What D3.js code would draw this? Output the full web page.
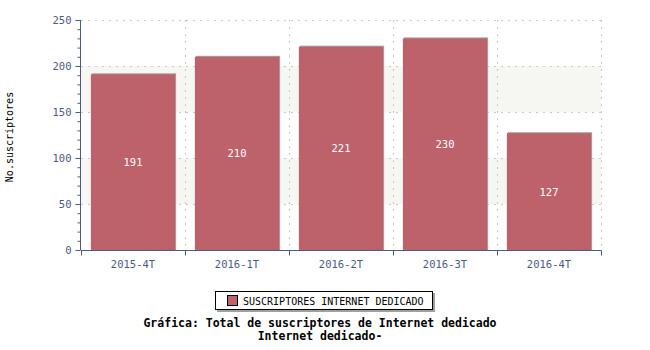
<!DOCTYPE html>
<html>
<head>
<meta charset="utf-8">
<script src="https://cdn.jsdelivr.net/npm/d3@7"></script>
<style>
  body { margin: 0; background: #fff; }
  svg { display: block; font-family: "DejaVu Sans Mono", monospace; }
</style>
</head>
<body>
<div id="chart"></div>
<script>
const categories = ['2015-4T', '2016-1T', '2016-2T', '2016-3T', '2016-4T'];
const values = [191, 210, 221, 230, 127];
const yTicks = [0, 50, 100, 150, 200, 250];
const bands = [[50, 100], [150, 200]];
const seriesName = 'SUSCRIPTORES INTERNET DEDICADO';
const titleLines = ['Gráfica: Total de suscriptores de Internet dedicado', 'Internet dedicado-'];

const W = 650, H = 350;
const margin = { left: 81, right: 49, top: 20, bottom: 100 };
const axisColor = '#4c5a82';
const barColor = '#bd616b';

const svg = d3.select('#chart').append('svg')
    .attr('width', W)
    .attr('height', H);

const x = d3.scaleBand()
    .domain(categories)
    .range([margin.left, W - margin.right])
    .paddingInner(0.19)
    .paddingOuter(0.095);
const y = d3.scaleLinear()
    .domain([0, 250])
    .range([H - margin.bottom, margin.top]);

const x0 = margin.left, x1 = W - margin.right;
const step = x.step();
const edge = i => x0 + i * step;

// alternating background bands
svg.append('g').selectAll('rect')
    .data(bands)
    .enter()
    .append('rect')
    .attr('x', x0)
    .attr('y', d => y(d[1]))
    .attr('width', x1 - x0)
    .attr('height', d => y(d[0]) - y(d[1]))
    .attr('fill', '#f6f6f2');

// dotted grid
const grid = svg.append('g')
    .attr('stroke', '#c8c8c8')
    .attr('stroke-dasharray', '2,5');
grid.selectAll('line.h')
    .data(yTicks.filter(d => d > 0))
    .enter()
    .append('line')
    .attr('x1', x0)
    .attr('x2', x1)
    .attr('y1', d => Math.round(y(d)) + 0.5)
    .attr('y2', d => Math.round(y(d)) + 0.5);
grid.selectAll('line.v')
    .data(d3.range(1, categories.length + 1))
    .enter()
    .append('line')
    .attr('x1', d => Math.round(edge(d)) + 0.5)
    .attr('x2', d => Math.round(edge(d)) + 0.5)
    .attr('y1', y(250))
    .attr('y2', y(0));

// bars with shadow
const barG = svg.append('g');
barG.selectAll('rect.shadow')
    .data(values)
    .enter()
    .append('rect')
    .attr('x', (d, i) => x(categories[i]) + 1)
    .attr('y', d => y(d) - 1)
    .attr('width', x.bandwidth())
    .attr('height', d => y(0) - y(d) + 1)
    .attr('fill', '#a9a0a2');
barG.selectAll('rect.bar')
    .data(values)
    .enter()
    .append('rect')
    .attr('x', (d, i) => x(categories[i]))
    .attr('y', d => y(d))
    .attr('width', x.bandwidth())
    .attr('height', d => y(0) - y(d))
    .attr('fill', barColor);
barG.selectAll('text')
    .data(values)
    .enter()
    .append('text')
    .attr('x', (d, i) => x(categories[i]) + x.bandwidth() / 2)
    .attr('y', d => y(d / 2) + 4)
    .attr('text-anchor', 'middle')
    .attr('font-size', '10.5px')
    .attr('fill', '#ffffff')
    .text(d => d);

// y axis
const yAxis = svg.append('g')
    .attr('transform', `translate(${x0 - 0.5},0)`)
    .call(d3.axisLeft(y).tickValues(yTicks).tickSize(5).tickPadding(4));
yAxis.selectAll('.tick line').attr('stroke', axisColor);
yAxis.select('.domain').attr('stroke', axisColor).attr('d', `M0,${y(250)}V${y(0)}`);
yAxis.selectAll('text')
    .attr('fill', axisColor)
    .attr('font-size', '10.5px')
    .attr('font-family', '"DejaVu Sans Mono", monospace');
const yMinor = svg.append('g')
    .attr('transform', `translate(${x0 - 0.5},0)`)
    .call(d3.axisLeft(y).tickValues(d3.range(0, 251, 10).filter(d => d % 50 !== 0)).tickSize(3).tickFormat(''));
yMinor.select('.domain').remove();
yMinor.selectAll('.tick line').attr('stroke', axisColor);

// x axis
const xAxis = svg.append('g')
    .attr('transform', `translate(0,${y(0) + 0.5})`);
xAxis.append('line')
    .attr('x1', x0)
    .attr('x2', x1 + 0.5)
    .attr('stroke', axisColor);
xAxis.selectAll('line.tk')
    .data(d3.range(0, categories.length + 1))
    .enter()
    .append('line')
    .attr('x1', d => Math.round(edge(d)) + 0.5)
    .attr('x2', d => Math.round(edge(d)) + 0.5)
    .attr('y1', 0)
    .attr('y2', 5)
    .attr('stroke', axisColor);
xAxis.selectAll('text')
    .data(categories)
    .enter()
    .append('text')
    .attr('x', d => x(d) + x.bandwidth() / 2)
    .attr('y', 17)
    .attr('text-anchor', 'middle')
    .attr('font-size', '10.5px')
    .attr('fill', axisColor)
    .text(d => d);

// y label
svg.append('text')
    .attr('transform', 'translate(13,137) rotate(-90)')
    .attr('text-anchor', 'middle')
    .attr('font-size', '10px')
    .attr('fill', '#000')
    .text('No.suscriptores');

// legend
const legend = svg.append('g').attr('transform', 'translate(215,291)');
legend.append('rect')
    .attr('x', 2).attr('y', 2)
    .attr('width', 218).attr('height', 19)
    .attr('fill', '#a0a0a0');
legend.append('rect')
    .attr('x', 0.5).attr('y', 0.5)
    .attr('width', 217).attr('height', 18)
    .attr('fill', '#fff')
    .attr('stroke', '#000');
legend.append('rect')
    .attr('x', 12.5).attr('y', 4.5)
    .attr('width', 10).attr('height', 10)
    .attr('fill', barColor)
    .attr('stroke', '#000');
legend.append('text')
    .attr('x', 28)
    .attr('y', 13.5)
    .attr('font-size', '10px')
    .attr('fill', '#000')
    .text(seriesName);

// title
svg.append('g').selectAll('text')
    .data(titleLines)
    .enter()
    .append('text')
    .attr('x', 320)
    .attr('y', (d, i) => 327 + i * 13)
    .attr('text-anchor', 'middle')
    .attr('font-size', '11.5px')
    .attr('font-weight', 'bold')
    .attr('fill', '#000')
    .text(d => d);
</script>
</body>
</html>
